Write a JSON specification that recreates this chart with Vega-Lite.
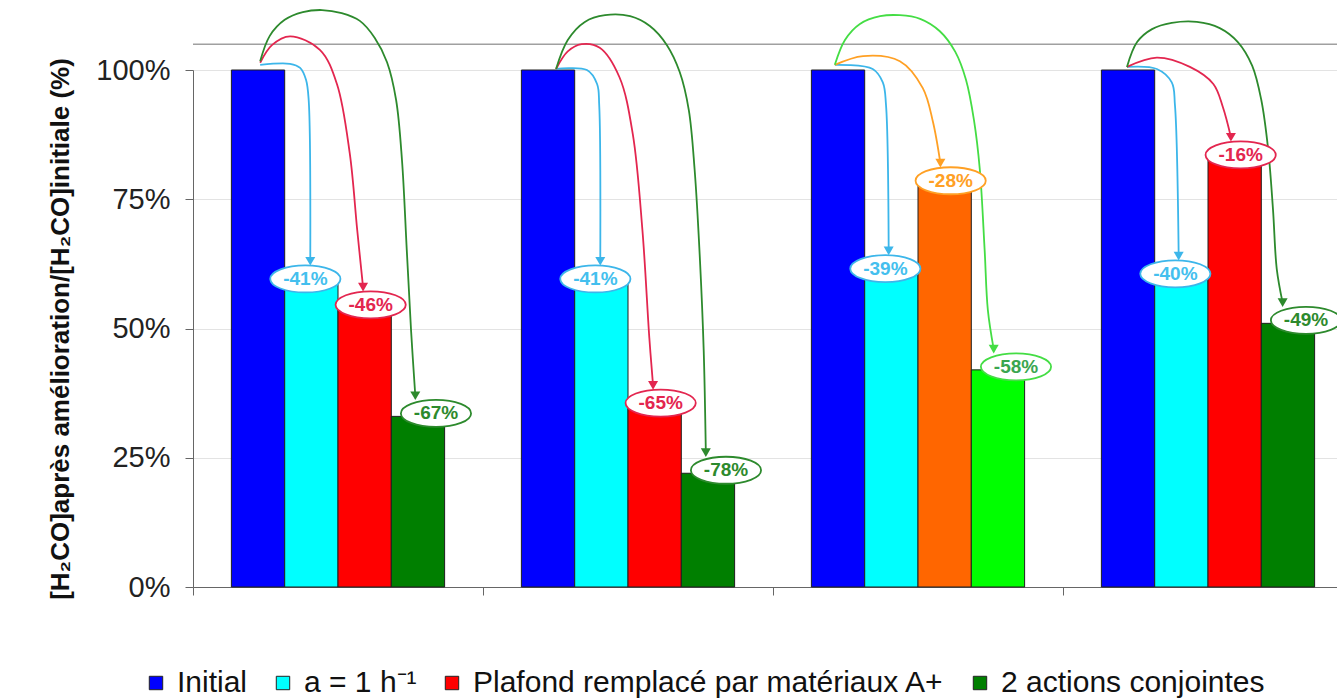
{
  "$schema": "https://vega.github.io/schema/vega-lite/v6.json",
  "width": 1144,
  "height": 517,
  "autosize": {"type": "none"},
  "padding": {"left": 193, "top": 70, "right": 0, "bottom": 113},
  "background": "white",
  "config": {"font": "Liberation Sans", "view": {"stroke": null}},
  "datasets": {
    "barres": [
      {"groupe": "G1", "action": "Initial", "serie": "Initial", "valeur": 1.0},
      {"groupe": "G1", "action": "Aération", "serie": "a = 1 h⁻¹", "valeur": 0.59, "etiquette": "-41%"},
      {"groupe": "G1", "action": "Plafond", "serie": "Plafond remplacé par matériaux A+", "valeur": 0.54, "etiquette": "-46%"},
      {"groupe": "G1", "action": "Combiné", "serie": "2 actions conjointes", "valeur": 0.33, "etiquette": "-67%"},
      {"groupe": "G2", "action": "Initial", "serie": "Initial", "valeur": 1.0},
      {"groupe": "G2", "action": "Aération", "serie": "a = 1 h⁻¹", "valeur": 0.59, "etiquette": "-41%"},
      {"groupe": "G2", "action": "Plafond", "serie": "Plafond remplacé par matériaux A+", "valeur": 0.35, "etiquette": "-65%"},
      {"groupe": "G2", "action": "Combiné", "serie": "2 actions conjointes", "valeur": 0.22, "etiquette": "-78%"},
      {"groupe": "G3", "action": "Initial", "serie": "Initial", "valeur": 1.0},
      {"groupe": "G3", "action": "Aération", "serie": "a = 1 h⁻¹", "valeur": 0.61, "etiquette": "-39%"},
      {"groupe": "G3", "action": "Plafond", "serie": "Plafond remplacé par matériaux A+ (cas 3)", "valeur": 0.78, "etiquette": "-28%"},
      {"groupe": "G3", "action": "Combiné", "serie": "2 actions conjointes (cas 3)", "valeur": 0.42, "etiquette": "-58%"},
      {"groupe": "G4", "action": "Initial", "serie": "Initial", "valeur": 1.0},
      {"groupe": "G4", "action": "Aération", "serie": "a = 1 h⁻¹", "valeur": 0.60, "etiquette": "-40%"},
      {"groupe": "G4", "action": "Plafond", "serie": "Plafond remplacé par matériaux A+", "valeur": 0.83, "etiquette": "-16%"},
      {"groupe": "G4", "action": "Combiné", "serie": "2 actions conjointes", "valeur": 0.51, "etiquette": "-49%"}
    ],
    "fleches": [
      {"groupe": "G1", "fleche": "G1a", "serie": "a = 1 h⁻¹", "ordre": 1, "pos": 0.54, "y": 1.010},
      {"groupe": "G1", "fleche": "G1a", "serie": "a = 1 h⁻¹", "ordre": 2, "pos": 1.10, "y": 1.012},
      {"groupe": "G1", "fleche": "G1a", "serie": "a = 1 h⁻¹", "ordre": 3, "pos": 1.29, "y": 1.004},
      {"groupe": "G1", "fleche": "G1a", "serie": "a = 1 h⁻¹", "ordre": 4, "pos": 1.40, "y": 0.981},
      {"groupe": "G1", "fleche": "G1a", "serie": "a = 1 h⁻¹", "ordre": 5, "pos": 1.45, "y": 0.942},
      {"groupe": "G1", "fleche": "G1a", "serie": "a = 1 h⁻¹", "ordre": 6, "pos": 1.48, "y": 0.630, "pointe": true},
      {"groupe": "G1", "fleche": "G1p", "serie": "Plafond remplacé par matériaux A+", "ordre": 1, "pos": 0.54, "y": 1.014},
      {"groupe": "G1", "fleche": "G1p", "serie": "Plafond remplacé par matériaux A+", "ordre": 2, "pos": 0.76, "y": 1.048},
      {"groupe": "G1", "fleche": "G1p", "serie": "Plafond remplacé par matériaux A+", "ordre": 3, "pos": 1.10, "y": 1.065},
      {"groupe": "G1", "fleche": "G1p", "serie": "Plafond remplacé par matériaux A+", "ordre": 4, "pos": 1.66, "y": 1.039},
      {"groupe": "G1", "fleche": "G1p", "serie": "Plafond remplacé par matériaux A+", "ordre": 5, "pos": 1.98, "y": 0.973},
      {"groupe": "G1", "fleche": "G1p", "serie": "Plafond remplacé par matériaux A+", "ordre": 6, "pos": 2.22, "y": 0.839},
      {"groupe": "G1", "fleche": "G1p", "serie": "Plafond remplacé par matériaux A+", "ordre": 7, "pos": 2.36, "y": 0.691},
      {"groupe": "G1", "fleche": "G1p", "serie": "Plafond remplacé par matériaux A+", "ordre": 8, "pos": 2.47, "y": 0.580, "pointe": true},
      {"groupe": "G1", "fleche": "G1c", "serie": "2 actions conjointes", "ordre": 1, "pos": 0.54, "y": 1.017},
      {"groupe": "G1", "fleche": "G1c", "serie": "2 actions conjointes", "ordre": 2, "pos": 0.72, "y": 1.066},
      {"groupe": "G1", "fleche": "G1c", "serie": "2 actions conjointes", "ordre": 3, "pos": 1.00, "y": 1.097},
      {"groupe": "G1", "fleche": "G1c", "serie": "2 actions conjointes", "ordre": 4, "pos": 1.34, "y": 1.112},
      {"groupe": "G1", "fleche": "G1c", "serie": "2 actions conjointes", "ordre": 5, "pos": 1.70, "y": 1.116},
      {"groupe": "G1", "fleche": "G1c", "serie": "2 actions conjointes", "ordre": 6, "pos": 2.07, "y": 1.110},
      {"groupe": "G1", "fleche": "G1c", "serie": "2 actions conjointes", "ordre": 7, "pos": 2.41, "y": 1.095},
      {"groupe": "G1", "fleche": "G1c", "serie": "2 actions conjointes", "ordre": 8, "pos": 2.69, "y": 1.062},
      {"groupe": "G1", "fleche": "G1c", "serie": "2 actions conjointes", "ordre": 9, "pos": 2.92, "y": 1.015},
      {"groupe": "G1", "fleche": "G1c", "serie": "2 actions conjointes", "ordre": 10, "pos": 3.09, "y": 0.942},
      {"groupe": "G1", "fleche": "G1c", "serie": "2 actions conjointes", "ordre": 11, "pos": 3.20, "y": 0.826},
      {"groupe": "G1", "fleche": "G1c", "serie": "2 actions conjointes", "ordre": 12, "pos": 3.29, "y": 0.652},
      {"groupe": "G1", "fleche": "G1c", "serie": "2 actions conjointes", "ordre": 13, "pos": 3.37, "y": 0.497},
      {"groupe": "G1", "fleche": "G1c", "serie": "2 actions conjointes", "ordre": 14, "pos": 3.45, "y": 0.370, "pointe": true},

      {"groupe": "G2", "fleche": "G2a", "serie": "a = 1 h⁻¹", "ordre": 1, "pos": 0.65, "y": 1.002},
      {"groupe": "G2", "fleche": "G2a", "serie": "a = 1 h⁻¹", "ordre": 2, "pos": 1.23, "y": 1.000},
      {"groupe": "G2", "fleche": "G2a", "serie": "a = 1 h⁻¹", "ordre": 3, "pos": 1.42, "y": 0.973},
      {"groupe": "G2", "fleche": "G2a", "serie": "a = 1 h⁻¹", "ordre": 4, "pos": 1.46, "y": 0.932},
      {"groupe": "G2", "fleche": "G2a", "serie": "a = 1 h⁻¹", "ordre": 5, "pos": 1.48, "y": 0.630, "pointe": true},
      {"groupe": "G2", "fleche": "G2p", "serie": "Plafond remplacé par matériaux A+", "ordre": 1, "pos": 0.65, "y": 1.002},
      {"groupe": "G2", "fleche": "G2p", "serie": "Plafond remplacé par matériaux A+", "ordre": 2, "pos": 0.87, "y": 1.036},
      {"groupe": "G2", "fleche": "G2p", "serie": "Plafond remplacé par matériaux A+", "ordre": 3, "pos": 1.13, "y": 1.050},
      {"groupe": "G2", "fleche": "G2p", "serie": "Plafond remplacé par matériaux A+", "ordre": 4, "pos": 1.47, "y": 1.043},
      {"groupe": "G2", "fleche": "G2p", "serie": "Plafond remplacé par matériaux A+", "ordre": 5, "pos": 1.84, "y": 0.986},
      {"groupe": "G2", "fleche": "G2p", "serie": "Plafond remplacé par matériaux A+", "ordre": 6, "pos": 2.09, "y": 0.876},
      {"groupe": "G2", "fleche": "G2p", "serie": "Plafond remplacé par matériaux A+", "ordre": 7, "pos": 2.27, "y": 0.691},
      {"groupe": "G2", "fleche": "G2p", "serie": "Plafond remplacé par matériaux A+", "ordre": 8, "pos": 2.40, "y": 0.482},
      {"groupe": "G2", "fleche": "G2p", "serie": "Plafond remplacé par matériaux A+", "ordre": 9, "pos": 2.47, "y": 0.390, "pointe": true},
      {"groupe": "G2", "fleche": "G2c", "serie": "2 actions conjointes", "ordre": 1, "pos": 0.65, "y": 1.002},
      {"groupe": "G2", "fleche": "G2c", "serie": "2 actions conjointes", "ordre": 2, "pos": 0.87, "y": 1.058},
      {"groupe": "G2", "fleche": "G2c", "serie": "2 actions conjointes", "ordre": 3, "pos": 1.19, "y": 1.093},
      {"groupe": "G2", "fleche": "G2c", "serie": "2 actions conjointes", "ordre": 4, "pos": 1.57, "y": 1.106},
      {"groupe": "G2", "fleche": "G2c", "serie": "2 actions conjointes", "ordre": 5, "pos": 2.04, "y": 1.104},
      {"groupe": "G2", "fleche": "G2c", "serie": "2 actions conjointes", "ordre": 6, "pos": 2.41, "y": 1.085},
      {"groupe": "G2", "fleche": "G2c", "serie": "2 actions conjointes", "ordre": 7, "pos": 2.73, "y": 1.048},
      {"groupe": "G2", "fleche": "G2c", "serie": "2 actions conjointes", "ordre": 8, "pos": 2.97, "y": 0.996},
      {"groupe": "G2", "fleche": "G2c", "serie": "2 actions conjointes", "ordre": 9, "pos": 3.14, "y": 0.923},
      {"groupe": "G2", "fleche": "G2c", "serie": "2 actions conjointes", "ordre": 10, "pos": 3.25, "y": 0.807},
      {"groupe": "G2", "fleche": "G2c", "serie": "2 actions conjointes", "ordre": 11, "pos": 3.35, "y": 0.632},
      {"groupe": "G2", "fleche": "G2c", "serie": "2 actions conjointes", "ordre": 12, "pos": 3.42, "y": 0.458},
      {"groupe": "G2", "fleche": "G2c", "serie": "2 actions conjointes", "ordre": 13, "pos": 3.46, "y": 0.260, "pointe": true},

      {"groupe": "G3", "fleche": "G3a", "serie": "a = 1 h⁻¹", "ordre": 1, "pos": 0.44, "y": 1.010},
      {"groupe": "G3", "fleche": "G3a", "serie": "a = 1 h⁻¹", "ordre": 2, "pos": 1.15, "y": 1.002},
      {"groupe": "G3", "fleche": "G3a", "serie": "a = 1 h⁻¹", "ordre": 3, "pos": 1.34, "y": 0.976},
      {"groupe": "G3", "fleche": "G3a", "serie": "a = 1 h⁻¹", "ordre": 4, "pos": 1.40, "y": 0.932},
      {"groupe": "G3", "fleche": "G3a", "serie": "a = 1 h⁻¹", "ordre": 5, "pos": 1.45, "y": 0.650, "pointe": true},
      {"groupe": "G3", "fleche": "G3p", "serie": "Plafond remplacé par matériaux A+ (cas 3)", "ordre": 1, "pos": 0.44, "y": 1.010},
      {"groupe": "G3", "fleche": "G3p", "serie": "Plafond remplacé par matériaux A+ (cas 3)", "ordre": 2, "pos": 0.97, "y": 1.027},
      {"groupe": "G3", "fleche": "G3p", "serie": "Plafond remplacé par matériaux A+ (cas 3)", "ordre": 3, "pos": 1.66, "y": 1.017},
      {"groupe": "G3", "fleche": "G3p", "serie": "Plafond remplacé par matériaux A+ (cas 3)", "ordre": 4, "pos": 2.09, "y": 0.965},
      {"groupe": "G3", "fleche": "G3p", "serie": "Plafond remplacé par matériaux A+ (cas 3)", "ordre": 5, "pos": 2.28, "y": 0.900},
      {"groupe": "G3", "fleche": "G3p", "serie": "Plafond remplacé par matériaux A+ (cas 3)", "ordre": 6, "pos": 2.42, "y": 0.820, "pointe": true},
      {"groupe": "G3", "fleche": "G3c", "serie": "2 actions conjointes (cas 3)", "ordre": 1, "pos": 0.44, "y": 1.010},
      {"groupe": "G3", "fleche": "G3c", "serie": "2 actions conjointes (cas 3)", "ordre": 2, "pos": 0.63, "y": 1.058},
      {"groupe": "G3", "fleche": "G3c", "serie": "2 actions conjointes (cas 3)", "ordre": 3, "pos": 0.91, "y": 1.089},
      {"groupe": "G3", "fleche": "G3c", "serie": "2 actions conjointes (cas 3)", "ordre": 4, "pos": 1.29, "y": 1.104},
      {"groupe": "G3", "fleche": "G3c", "serie": "2 actions conjointes (cas 3)", "ordre": 5, "pos": 1.66, "y": 1.106},
      {"groupe": "G3", "fleche": "G3c", "serie": "2 actions conjointes (cas 3)", "ordre": 6, "pos": 2.04, "y": 1.099},
      {"groupe": "G3", "fleche": "G3c", "serie": "2 actions conjointes (cas 3)", "ordre": 7, "pos": 2.41, "y": 1.075},
      {"groupe": "G3", "fleche": "G3c", "serie": "2 actions conjointes (cas 3)", "ordre": 8, "pos": 2.70, "y": 1.035},
      {"groupe": "G3", "fleche": "G3c", "serie": "2 actions conjointes (cas 3)", "ordre": 9, "pos": 2.90, "y": 0.981},
      {"groupe": "G3", "fleche": "G3c", "serie": "2 actions conjointes (cas 3)", "ordre": 10, "pos": 3.05, "y": 0.903},
      {"groupe": "G3", "fleche": "G3c", "serie": "2 actions conjointes (cas 3)", "ordre": 11, "pos": 3.16, "y": 0.807},
      {"groupe": "G3", "fleche": "G3c", "serie": "2 actions conjointes (cas 3)", "ordre": 12, "pos": 3.25, "y": 0.652},
      {"groupe": "G3", "fleche": "G3c", "serie": "2 actions conjointes (cas 3)", "ordre": 13, "pos": 3.31, "y": 0.536},
      {"groupe": "G3", "fleche": "G3c", "serie": "2 actions conjointes (cas 3)", "ordre": 14, "pos": 3.42, "y": 0.460, "pointe": true},

      {"groupe": "G4", "fleche": "G4a", "serie": "a = 1 h⁻¹", "ordre": 1, "pos": 0.48, "y": 1.006},
      {"groupe": "G4", "fleche": "G4a", "serie": "a = 1 h⁻¹", "ordre": 2, "pos": 1.04, "y": 1.002},
      {"groupe": "G4", "fleche": "G4a", "serie": "a = 1 h⁻¹", "ordre": 3, "pos": 1.32, "y": 0.976},
      {"groupe": "G4", "fleche": "G4a", "serie": "a = 1 h⁻¹", "ordre": 4, "pos": 1.38, "y": 0.932},
      {"groupe": "G4", "fleche": "G4a", "serie": "a = 1 h⁻¹", "ordre": 5, "pos": 1.45, "y": 0.640, "pointe": true},
      {"groupe": "G4", "fleche": "G4p", "serie": "Plafond remplacé par matériaux A+", "ordre": 1, "pos": 0.48, "y": 1.006},
      {"groupe": "G4", "fleche": "G4p", "serie": "Plafond remplacé par matériaux A+", "ordre": 2, "pos": 1.04, "y": 1.024},
      {"groupe": "G4", "fleche": "G4p", "serie": "Plafond remplacé par matériaux A+", "ordre": 3, "pos": 1.66, "y": 1.006},
      {"groupe": "G4", "fleche": "G4p", "serie": "Plafond remplacé par matériaux A+", "ordre": 4, "pos": 2.10, "y": 0.973},
      {"groupe": "G4", "fleche": "G4p", "serie": "Plafond remplacé par matériaux A+", "ordre": 5, "pos": 2.28, "y": 0.928},
      {"groupe": "G4", "fleche": "G4p", "serie": "Plafond remplacé par matériaux A+", "ordre": 6, "pos": 2.43, "y": 0.870, "pointe": true},
      {"groupe": "G4", "fleche": "G4c", "serie": "2 actions conjointes", "ordre": 1, "pos": 0.48, "y": 1.006},
      {"groupe": "G4", "fleche": "G4c", "serie": "2 actions conjointes", "ordre": 2, "pos": 0.67, "y": 1.054},
      {"groupe": "G4", "fleche": "G4c", "serie": "2 actions conjointes", "ordre": 3, "pos": 0.95, "y": 1.079},
      {"groupe": "G4", "fleche": "G4c", "serie": "2 actions conjointes", "ordre": 4, "pos": 1.32, "y": 1.091},
      {"groupe": "G4", "fleche": "G4c", "serie": "2 actions conjointes", "ordre": 5, "pos": 1.79, "y": 1.093},
      {"groupe": "G4", "fleche": "G4c", "serie": "2 actions conjointes", "ordre": 6, "pos": 2.22, "y": 1.081},
      {"groupe": "G4", "fleche": "G4c", "serie": "2 actions conjointes", "ordre": 7, "pos": 2.56, "y": 1.054},
      {"groupe": "G4", "fleche": "G4c", "serie": "2 actions conjointes", "ordre": 8, "pos": 2.83, "y": 1.008},
      {"groupe": "G4", "fleche": "G4c", "serie": "2 actions conjointes", "ordre": 9, "pos": 3.00, "y": 0.942},
      {"groupe": "G4", "fleche": "G4c", "serie": "2 actions conjointes", "ordre": 10, "pos": 3.13, "y": 0.845},
      {"groupe": "G4", "fleche": "G4c", "serie": "2 actions conjointes", "ordre": 11, "pos": 3.22, "y": 0.729},
      {"groupe": "G4", "fleche": "G4c", "serie": "2 actions conjointes", "ordre": 12, "pos": 3.29, "y": 0.615},
      {"groupe": "G4", "fleche": "G4c", "serie": "2 actions conjointes", "ordre": 13, "pos": 3.40, "y": 0.550, "pointe": true}
    ]
  },
  "layer": [
    {
      "data": {"name": "barres"},
      "mark": {"type": "bar", "stroke": "#1e1e1e", "strokeWidth": 1},
      "encoding": {
        "x": {
          "field": "groupe", "type": "nominal",
          "scale": {"domain": ["G1", "G2", "G3", "G4"], "range": [0, 1160], "paddingInner": 0, "paddingOuter": 0},
          "axis": {"labels": false, "ticks": true, "tickSize": 8, "bandPosition": 0, "title": null, "grid": false, "domainColor": "#666", "tickColor": "#666"}
        },
        "xOffset": {
          "field": "action", "type": "nominal",
          "scale": {"domain": ["Initial", "Aération", "Plafond", "Combiné"], "paddingInner": 0, "paddingOuter": 0.72}
        },
        "y": {
          "field": "valeur", "type": "quantitative",
          "scale": {"domain": [0, 1], "nice": false},
          "axis": {
            "values": [0, 0.25, 0.5, 0.75, 1], "format": ".0%",
            "labelFontSize": 29, "labelColor": "#222", "labelFont": "Liberation Sans", "labelPadding": 15,
            "labelFlush": false, "labelOverlap": false,
            "tickSize": 8, "tickColor": "#666", "domainColor": "#666",
            "grid": true, "gridColor": "#e3e3e3",
            "title": "[H₂CO]après amélioration/[H₂CO]initiale (%)",
            "titleFontSize": 26, "titleFontWeight": "bold", "titleColor": "#111", "titlePadding": 22, "titleFont": "Liberation Sans"
          }
        },
        "fill": {
          "field": "serie", "type": "nominal",
          "scale": {
            "domain": ["Initial", "a = 1 h⁻¹", "Plafond remplacé par matériaux A+", "2 actions conjointes", "Plafond remplacé par matériaux A+ (cas 3)", "2 actions conjointes (cas 3)"],
            "range": ["#0000ff", "#00ffff", "#ff0000", "#007f00", "#ff6600", "#00ff00"]
          },
          "legend": {
            "orient": "none", "legendX": -52, "legendY": 598, "direction": "horizontal", "title": null,
            "values": ["Initial", "a = 1 h⁻¹", "Plafond remplacé par matériaux A+", "2 actions conjointes"],
            "symbolType": "square", "symbolSize": 180, "symbolStrokeColor": "#222", "symbolStrokeWidth": 1,
            "labelFontSize": 30, "labelFont": "Liberation Sans", "labelColor": "#111", "labelOffset": 6,
            "columnPadding": 20, "labelLimit": 1000
          }
        }
      }
    },
    {
      "data": {"values": [{}]},
      "mark": {"type": "rule", "color": "#a0a0a0", "strokeWidth": 1.5},
      "encoding": {
        "y": {"datum": 1.05, "type": "quantitative", "scale": {"domain": [0, 1], "nice": false}}
      }
    },
    {
      "data": {"name": "fleches"},
      "mark": {"type": "line", "interpolate": "catmull-rom", "strokeWidth": 1.8},
      "encoding": {
        "x": {"field": "groupe", "type": "nominal", "scale": {"domain": ["G1", "G2", "G3", "G4"], "range": [0, 1160], "paddingInner": 0, "paddingOuter": 0}},
        "xOffset": {"field": "pos", "type": "quantitative", "scale": {"domain": [-0.72, 4.72], "nice": false, "zero": false}},
        "y": {"field": "y", "type": "quantitative", "scale": {"domain": [0, 1], "nice": false}},
        "stroke": {
          "field": "serie", "type": "nominal",
          "scale": {
            "domain": ["a = 1 h⁻¹", "Plafond remplacé par matériaux A+", "2 actions conjointes", "Plafond remplacé par matériaux A+ (cas 3)", "2 actions conjointes (cas 3)"],
            "range": ["#3cb6ea", "#e3264f", "#2d8a2d", "#ffa024", "#44dd44"]
          },
          "legend": null
        },
        "detail": {"field": "fleche", "type": "nominal"},
        "order": {"field": "ordre", "type": "quantitative"}
      }
    },
    {
      "data": {"name": "fleches"},
      "transform": [{"filter": {"field": "pointe", "equal": true}}],
      "mark": {"type": "point", "shape": "triangle-down", "filled": true, "size": 100, "opacity": 1},
      "encoding": {
        "x": {"field": "groupe", "type": "nominal", "scale": {"domain": ["G1", "G2", "G3", "G4"], "range": [0, 1160], "paddingInner": 0, "paddingOuter": 0}},
        "xOffset": {"field": "pos", "type": "quantitative", "scale": {"domain": [-0.72, 4.72], "nice": false, "zero": false}},
        "y": {"field": "y", "type": "quantitative", "scale": {"domain": [0, 1], "nice": false}},
        "fill": {
          "field": "serie", "type": "nominal",
          "scale": {
            "domain": ["a = 1 h⁻¹", "Plafond remplacé par matériaux A+", "2 actions conjointes", "Plafond remplacé par matériaux A+ (cas 3)", "2 actions conjointes (cas 3)"],
            "range": ["#3cb6ea", "#e3264f", "#2d8a2d", "#ffa024", "#44dd44"]
          },
          "legend": null
        }
      }
    },
    {
      "data": {"name": "barres"},
      "transform": [{"filter": "datum.etiquette != null"}],
      "mark": {"type": "point", "shape": "M -2.6 0 A 2.6 1 0 1 0 2.6 0 A 2.6 1 0 1 0 -2.6 0 Z", "size": 729, "fill": "white", "fillOpacity": 1, "strokeWidth": 1.8, "opacity": 1, "yOffset": -3},
      "encoding": {
        "x": {"field": "groupe", "type": "nominal", "scale": {"domain": ["G1", "G2", "G3", "G4"], "range": [0, 1160], "paddingInner": 0, "paddingOuter": 0}},
        "xOffset": {"field": "action", "type": "nominal", "scale": {"domain": ["Initial", "Aération", "Plafond", "Combiné"], "paddingInner": 0, "paddingOuter": 0.72}},
        "y": {"field": "valeur", "type": "quantitative", "scale": {"domain": [0, 1], "nice": false}},
        "stroke": {
          "field": "serie", "type": "nominal",
          "scale": {
            "domain": ["a = 1 h⁻¹", "Plafond remplacé par matériaux A+", "2 actions conjointes", "Plafond remplacé par matériaux A+ (cas 3)", "2 actions conjointes (cas 3)"],
            "range": ["#3cb6ea", "#e3264f", "#2d8a2d", "#ffa024", "#44dd44"]
          },
          "legend": null
        }
      }
    },
    {
      "data": {"name": "barres"},
      "transform": [{"filter": "datum.etiquette != null"}],
      "mark": {"type": "text", "fontSize": 19, "fontWeight": "bold", "font": "Liberation Sans", "baseline": "middle", "align": "center", "yOffset": -3},
      "encoding": {
        "x": {"field": "groupe", "type": "nominal", "scale": {"domain": ["G1", "G2", "G3", "G4"], "range": [0, 1160], "paddingInner": 0, "paddingOuter": 0}},
        "xOffset": {"field": "action", "type": "nominal", "scale": {"domain": ["Initial", "Aération", "Plafond", "Combiné"], "paddingInner": 0, "paddingOuter": 0.72}},
        "y": {"field": "valeur", "type": "quantitative", "scale": {"domain": [0, 1], "nice": false}},
        "text": {"field": "etiquette", "type": "nominal"},
        "fill": {
          "field": "serie", "type": "nominal",
          "scale": {
            "domain": ["a = 1 h⁻¹", "Plafond remplacé par matériaux A+", "2 actions conjointes", "Plafond remplacé par matériaux A+ (cas 3)", "2 actions conjointes (cas 3)"],
            "range": ["#44bfee", "#e3264f", "#2d8a2d", "#ffa024", "#3aa650"]
          },
          "legend": null
        }
      }
    }
  ],
  "resolve": {"scale": {"xOffset": "independent", "fill": "independent", "stroke": "independent"}}
}
